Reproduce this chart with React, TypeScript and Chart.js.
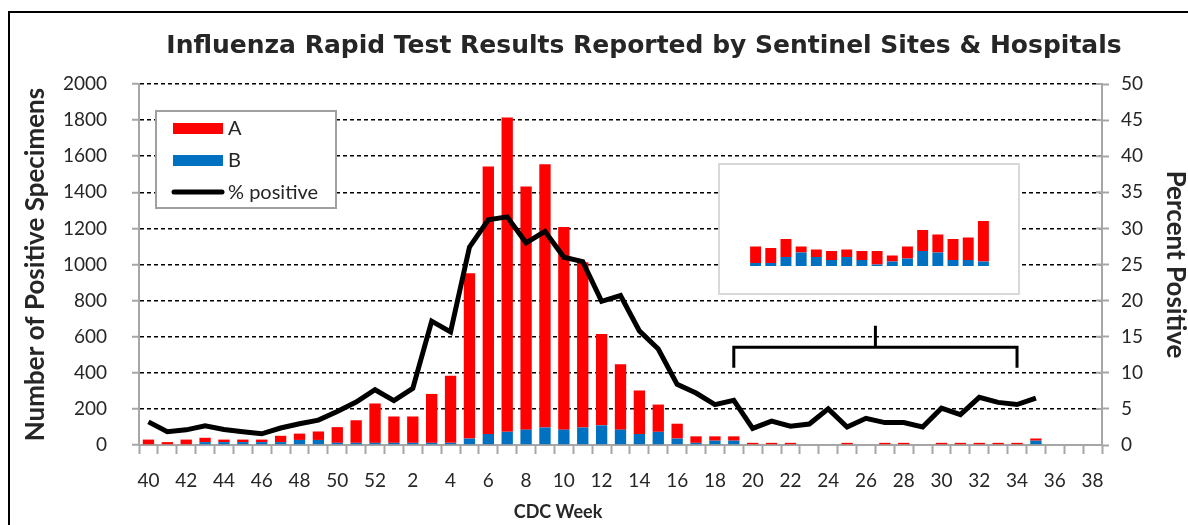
import React, { useEffect, useRef } from 'react';
import { Chart, registerables } from 'chart.js';

Chart.register(...registerables);

// ---------- data ----------
const weeks = [
  '40', '41', '42', '43', '44', '45', '46', '47', '48', '49', '50', '51', '52',
  '1', '2', '3', '4', '5', '6', '7', '8', '9', '10', '11', '12', '13', '14', '15', '16', '17', '18', '19',
  '20', '21', '22', '23', '24', '25', '26', '27', '28', '29', '30', '31', '32', '33', '34', '35', '36', '37', '38',
];

const fluA = [
  30, 16, 30, 24, 14, 14, 14, 35, 35, 47, 87, 125, 218,
  146, 146, 271, 372, 915, 1482, 1741, 1347, 1459, 1123, 915, 506, 362, 241, 151, 82, 36, 24, 24,
  12, 12, 12, 0, 0, 12, 0, 12, 12, 0, 12, 12, 12, 12, 12, 12, null, null, null,
];

const fluB = [
  0, 0, 0, 16, 16, 16, 16, 16, 28, 28, 12, 12, 12,
  12, 12, 12, 12, 36, 61, 73, 85, 97, 85, 97, 109, 85, 61, 73, 36, 12, 24, 24,
  0, 0, 0, 0, 0, 0, 0, 0, 0, 0, 0, 0, 0, 0, 0, 24, null, null, null,
];

const pctPositive = [
  3.2, 1.85, 2.1, 2.65, 2.15, 1.85, 1.55, 2.35, 2.95, 3.45, 4.65, 5.95, 7.65,
  6.15, 7.85, 17.15, 15.65, 27.4, 31.2, 31.6, 28.0, 29.6, 26.0, 25.4, 19.9, 20.7, 15.8, 13.3, 8.4, 7.2, 5.6, 6.2,
  2.3, 3.3, 2.6, 2.9, 5.0, 2.5, 3.7, 3.1, 3.1, 2.5, 5.1, 4.2, 6.6, 5.9, 5.6, 6.5, null, null, null,
];

// inset: close-up of the late-season weeks
const insetWeeks = ['20', '21', '22', '23', '24', '25', '26', '27', '28', '29', '30', '31', '32', '33', '34', '35'];
const insetA = [11, 10, 12, 4, 5, 6, 5, 6, 9, 4, 8, 14, 12, 14, 15, 27];
const insetB = [2, 2, 6, 9, 6, 4, 6, 4, 1, 3, 5, 10, 9, 4, 4, 3];

const leftMax = 2000;
const leftStep = 200;
const rightMax = 50;
const rightStep = 5;

const TITLE = 'Influenza Rapid Test Results Reported by Sentinel Sites & Hospitals';
const X_TITLE = 'CDC Week';
const Y_TITLE = 'Number of Positive Specimens';
const Y1_TITLE = 'Percent Positive';

const RED = '#ff0000';
const BLUE = '#0070c0';
const AXIS_GREY = '#a6a6a6';
const TXT = '#262626';

const decorPlugin = {
  id: 'decor',
  afterDraw(chart: any) {
    const ctx = chart.ctx as CanvasRenderingContext2D;
    const xs = chart.scales.x;
    const y1 = chart.scales.y1;
    ctx.save();
    // outer frame (left/top)
    ctx.strokeStyle = '#000';
    ctx.lineWidth = 2;
    ctx.beginPath();
    ctx.moveTo(9, 525);
    ctx.lineTo(9, 12);
    ctx.lineTo(1188, 12);
    ctx.stroke();

    // inner ticks of the right axis
    ctx.strokeStyle = AXIS_GREY;
    ctx.lineWidth = 2;
    ctx.beginPath();
    y1.ticks.forEach((t: any) => {
      const py = y1.getPixelForValue(t.value);
      ctx.moveTo(y1.left - 6, py);
      ctx.lineTo(y1.left, py);
    });
    ctx.stroke();

    // title
    ctx.fillStyle = TXT;
    ctx.textAlign = 'center';
    ctx.textBaseline = 'middle';
    ctx.font = 'bold 25px "DejaVu Sans"';
    ctx.fillText(TITLE, 644, 46);

    // x title
    ctx.font = 'bold 18px Lato';
    ctx.fillText(X_TITLE, 558, 512);

    // legend box
    const lx = 156, ly = 111, lw = 180, lh = 97;
    ctx.fillStyle = '#fff';
    ctx.fillRect(lx, ly, lw, lh);
    ctx.strokeStyle = '#a0a0a0';
    ctx.lineWidth = 2;
    ctx.strokeRect(lx, ly, lw, lh);
    const ds = chart.data.datasets;
    const items = [ds[1], ds[0], ds[2]];
    const rows = [128, 160, 192];
    ctx.font = '20px Lato';
    ctx.textAlign = 'left';
    items.forEach((d: any, i: number) => {
      const cy = rows[i];
      if (d.type === 'line') {
        ctx.strokeStyle = '#000';
        ctx.lineWidth = 5;
        ctx.lineCap = 'round';
        ctx.beginPath();
        ctx.moveTo(174, cy);
        ctx.lineTo(222, cy);
        ctx.stroke();
        ctx.lineCap = 'butt';
      } else {
        ctx.fillStyle = d.backgroundColor;
        ctx.fillRect(173, cy - 5, 50, 11);
      }
      ctx.fillStyle = TXT;
      ctx.fillText(d.label, 228, cy + 1);
    });

    // bracket
    const bx1 = xs.getPixelForValue(31);
    const bx2 = xs.getPixelForValue(46);
    const bxm = (bx1 + bx2) / 2;
    const byH = y1.getPixelForValue(13.55);
    const byE = y1.getPixelForValue(10.7);
    const byT = y1.getPixelForValue(16.5);
    ctx.strokeStyle = '#000';
    ctx.lineWidth = 3;
    ctx.lineJoin = 'miter';
    ctx.beginPath();
    ctx.moveTo(bx1, byE);
    ctx.lineTo(bx1, byH);
    ctx.lineTo(bx2, byH);
    ctx.lineTo(bx2, byE);
    ctx.moveTo(bxm, byH);
    ctx.lineTo(bxm, byT);
    ctx.stroke();
    ctx.restore();
  },
};

export default function App() {
  const mainRef = useRef<HTMLCanvasElement>(null);
  const insetRef = useRef<HTMLCanvasElement>(null);

  useEffect(() => {
    document.body.style.margin = '0';
    const main = new Chart(mainRef.current!, {
      type: 'bar',
      data: {
        labels: weeks,
        datasets: [
          {
            type: 'bar',
            label: 'B',
            data: fluB,
            backgroundColor: BLUE,
            stack: 's',
            yAxisID: 'y',
            order: 2,
            barPercentage: 0.6,
            categoryPercentage: 1,
          },
          {
            type: 'bar',
            label: 'A',
            data: fluA,
            backgroundColor: RED,
            stack: 's',
            yAxisID: 'y',
            order: 2,
            barPercentage: 0.6,
            categoryPercentage: 1,
          },
          {
            type: 'line',
            label: '% positive',
            data: pctPositive,
            borderColor: '#000',
            backgroundColor: '#000',
            borderWidth: 5,
            pointRadius: 0,
            tension: 0,
            yAxisID: 'y1',
            order: 1,
            spanGaps: false,
          } as any,
        ],
      },
      options: {
        animation: false,
        responsive: false,
        maintainAspectRatio: false,
        layout: { padding: { top: 84, left: 0, right: 0, bottom: 0 } },
        plugins: {
          legend: { display: false },
          title: { display: false },
          tooltip: { enabled: false },
        },
        scales: {
          x: {
            stacked: true,
            offset: true,
            grid: {
              offset: true,
              drawOnChartArea: false,
              drawTicks: true,
              tickLength: 9,
              tickColor: AXIS_GREY,
              tickWidth: 2,
            },
            border: { color: AXIS_GREY, width: 2 },
            ticks: {
              autoSkip: false,
              maxRotation: 0,
              minRotation: 0,
              padding: 15,
              color: TXT,
              font: { family: 'Lato', size: 19 },
              callback: (_v: any, i: number) => (i % 2 === 0 ? weeks[i] : ''),
            },
            afterFit: (s: any) => {
              s.height = 80;
            },
          },
          y: {
            stacked: true,
            position: 'left',
            min: 0,
            max: leftMax,
            ticks: {
              stepSize: leftStep,
              padding: 25,
              color: TXT,
              font: { family: 'Lato', size: 19 },
              callback: (v: any) => String(v),
            },
            grid: {
              color: (c: any) => (c.tick && c.tick.value === 0 ? 'rgba(0,0,0,0)' : '#000'),
              lineWidth: 1.5,
              tickColor: AXIS_GREY,
              tickLength: 7,
              tickWidth: 2,
            },
            border: { color: AXIS_GREY, width: 2, dash: [4, 3] },
            title: {
              display: true,
              text: Y_TITLE,
              color: TXT,
              font: { family: 'Lato', size: 26, weight: 'bold', lineHeight: 1 },
              padding: { top: 23, bottom: 0 },
            },
            afterFit: (s: any) => {
              s.width = 139;
            },
          },
          y1: {
            position: 'right',
            min: 0,
            max: rightMax,
            ticks: {
              stepSize: rightStep,
              padding: 12,
              color: TXT,
              font: { family: 'Lato', size: 19 },
              callback: (v: any) => String(v),
            },
            grid: {
              drawOnChartArea: false,
              tickColor: AXIS_GREY,
              tickLength: 7,
              tickWidth: 2,
            },
            border: { color: AXIS_GREY, width: 2 },
            title: {
              display: true,
              text: Y1_TITLE,
              color: TXT,
              font: { family: 'Lato', size: 26, weight: 'bold', lineHeight: 1 },
              padding: { top: 0, bottom: 0 },
            },
            afterFit: (s: any) => {
              s.width = 86;
            },
          },
        },
      },
      plugins: [decorPlugin],
    });

    const inset = new Chart(insetRef.current!, {
      type: 'bar',
      data: {
        labels: insetWeeks,
        datasets: [
          { label: 'B', data: insetB, backgroundColor: BLUE, barPercentage: 0.72, categoryPercentage: 1 },
          { label: 'A', data: insetA, backgroundColor: RED, barPercentage: 0.72, categoryPercentage: 1 },
        ],
      },
      options: {
        animation: false,
        responsive: false,
        maintainAspectRatio: false,
        layout: { padding: { top: 11, left: 28, right: 27, bottom: 27 } },
        plugins: { legend: { display: false }, title: { display: false }, tooltip: { enabled: false } },
        scales: {
          x: { stacked: true, display: false },
          y: { stacked: true, display: false, min: 0, max: 60 },
        },
      },
    });

    return () => {
      main.destroy();
      inset.destroy();
    };
  }, []);

  return (
    <div style={{ position: 'relative', width: 1188, height: 525, background: '#fff', overflow: 'hidden' }}>
      <canvas ref={mainRef} width={1188} height={525} style={{ position: 'absolute', left: 0, top: 0 }} />
      <div
        style={{
          position: 'absolute',
          left: 718,
          top: 163,
          width: 302,
          height: 132,
          boxSizing: 'border-box',
          border: '2px solid #d9d9d9',
          background: '#fff',
        }}
      >
        <canvas ref={insetRef} width={298} height={128} style={{ display: 'block' }} />
      </div>
    </div>
  );
}
